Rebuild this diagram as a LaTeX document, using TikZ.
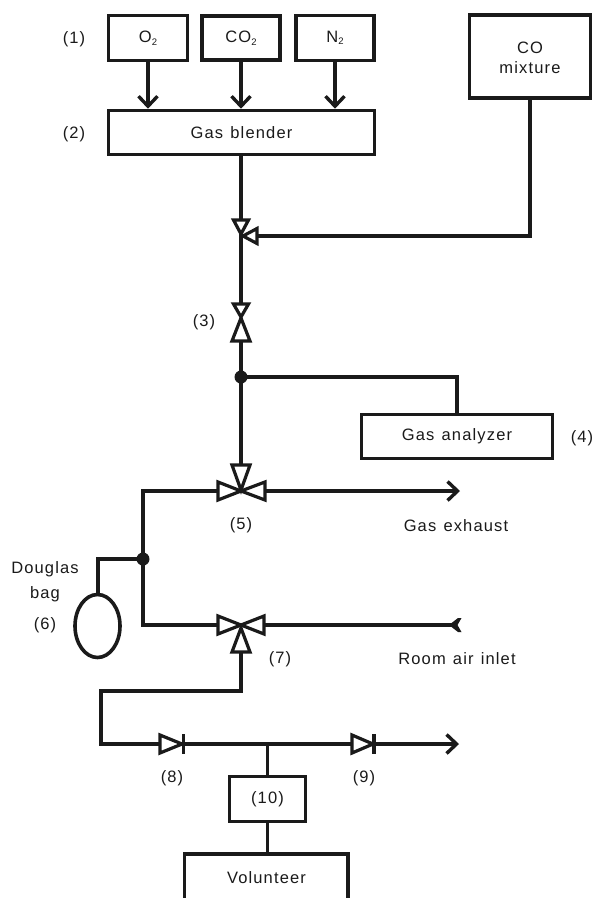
\documentclass[tikz,border=0pt]{standalone}
\usepackage{fontspec}
\setmainfont[LetterSpace=7,WordSpace=1.25]{Liberation Sans}
\usetikzlibrary{arrows.meta,shapes.geometric}
\definecolor{ink}{HTML}{1A1A1A}
\tikzset{
  x=1pt,y=-1pt,
  pipe/.style={ink,line width=3.4pt,line join=miter},
  flow/.style={pipe,-{Straight Barb[length=10pt,width=19pt,line width=3.4pt]}},
  box/.style={draw=ink,line width=3.6pt,fill=white,inner sep=0pt,font=\fontsize{16.5}{20}\selectfont,text=ink,align=center},
  lab/.style={inner sep=0pt,font=\fontsize{16.5}{25}\selectfont,text=ink,align=center},
  tri/.style={draw=ink,line width=3.2pt,fill=white,line join=miter},
  dot/.style={circle,fill=ink,inner sep=0pt,minimum size=13pt},
}
\newcommand{\subtwo}[1]{\raisebox{-0.3ex}{\fontsize{9.5}{10}\selectfont #1}}
\begin{document}
\begin{tikzpicture}
\useasboundingbox (0,0) rectangle (593,898);
\fill[white] (0,0) rectangle (593,898);
% boxes
\node[box,minimum width=79pt,minimum height=45pt] (o2) at (148,38) {O\subtwo{2}};
\node[box,line width=4.4pt,minimum width=78pt,minimum height=44pt] (co2) at (241,38) {CO\subtwo{2}};
\node[box,minimum width=78pt,minimum height=45pt] (n2) at (335,38) {N\subtwo{2}};
\node[box,minimum width=266pt,minimum height=44pt] (blend) at (241.5,132.5) {Gas blender};
\node[box,minimum width=121pt,minimum height=83pt] (co) at (530,56.5) {};
\node[lab,font=\fontsize{16.5}{20}\selectfont] (cot) at (530,58) {CO\\mixture};
\node[box,minimum width=191pt,minimum height=44pt] (ana) at (457,436.5) {Gas analyzer};
\node[box,minimum width=76pt,minimum height=45pt] (ten) at (267.5,799) {(10)};
% volunteer (runs off the page)
\node[lab,font=\fontsize{16.5}{20}\selectfont] (vol) at (266.5,878) {Volunteer};
\coordinate (voltop) at (267.5,854);
\draw[pipe,line width=3.6pt] (184.5,898) -- (184.5,854) -- (348,854) -- (348,898);
% named points
\coordinate (j1b) at (241,220);
\coordinate (j1) at (241,233);
\coordinate (j1r) at (257,236);
\coordinate (j1o) at (241,303);
\coordinate (v3b) at (241,341);
\coordinate (d1) at (241,377);
\coordinate (v5t) at (241,465);
\coordinate (v5l) at (218,491);
\coordinate (v5r) at (265,491);
\coordinate (exh) at (460,491);
\coordinate (d2) at (143,559);
\coordinate (bagc) at (97.5,626);
\coordinate (v7l) at (218,625);
\coordinate (v7r) at (264,625);
\coordinate (v7b) at (241,652);
\coordinate (air) at (455,625);
\coordinate (c8) at (160,744);
\coordinate (b8) at (183.5,744);
\coordinate (c9) at (352,744);
\coordinate (b9) at (374,744);
\coordinate (out) at (459,744);
\coordinate (t1) at (267.5,744);
% connectors
\draw[flow] (o2.south) -- (o2.south |- blend.north);
\draw[flow] (co2.south) -- (co2.south |- blend.north);
\draw[flow] (n2.south) -- (n2.south |- blend.north);
\draw[pipe] (co2.south |- blend.south) -- (j1b);
\draw[pipe] (co.south) -- (530,236) -- (j1r);
\draw[pipe] (j1) -- (j1o);
\draw[pipe] (v3b) -- (d1) -- (v5t);
\draw[pipe] (d1) -- (457,377) -- (ana.north);
\draw[flow] (v5r) -- (exh);
\draw[pipe] (v5l) -- (143,491) -- (143,625) -- (v7l);
\draw[pipe] (d2) -- (98,559) -- (98,594);
\draw[pipe] (v7r) -- (air);
\fill[ink] (449,625) -- (458,618) -- (461.5,618) -- (457.5,625) -- (461.5,632) -- (458,632) -- cycle;
\draw[pipe] (v7b) -- (241,691) -- (101,691) -- (101,744) -- (c8);
\draw[pipe] (b8) -- (c9);
\draw[flow] (b9) -- (out);
\draw[pipe] (t1) -- (ten.north);
\draw[pipe] (ten.south) -- (voltop);
% valves
\draw[tri] (241,234) -- (233.5,220) -- (248.5,220) -- cycle;
\draw[tri] (243,236) -- (257,228.5) -- (257,243.5) -- cycle;
\draw[tri] (241,317) -- (233.5,304) -- (248.5,304) -- cycle;
\draw[tri] (241,318) -- (232,341) -- (250,341) -- cycle;
\draw[tri] (241,490) -- (232,465) -- (250,465) -- cycle;
\draw[tri] (241,491) -- (218,482) -- (218,500) -- cycle;
\draw[tri] (241,491) -- (265,482) -- (265,500) -- cycle;
\draw[tri] (241,625) -- (218,616) -- (218,634) -- cycle;
\draw[tri] (241,625) -- (264,616) -- (264,634) -- cycle;
\draw[tri] (241,628) -- (232,652) -- (250,652) -- cycle;
\draw[tri] (182,744) -- (160,735) -- (160,753) -- cycle;
\draw[pipe] (183.5,734) -- (183.5,754);
\draw[tri] (373,744) -- (352,735) -- (352,753) -- cycle;
\draw[pipe] (374,734) -- (374,754);
% junctions and bag
\node[dot] (jd1) at (d1) {};
\node[dot] (jd2) at (d2) {};
\node[draw=ink,line width=3.6pt,ellipse,fill=white,minimum width=45pt,minimum height=63pt,inner sep=0pt] (bag) at (bagc) {};
% labels
\node[lab] (l1) at (74,39) {(1)};
\node[lab] (l2) at (74,134) {(2)};
\node[lab] (l3) at (204,322) {(3)};
\node[lab] (l4) at (582,438) {(4)};
\node[lab] (l5) at (241,525) {(5)};
\node[lab] (ld) at (45,581.5) {Douglas\\bag};
\node[lab] (l6) at (45,625) {(6)};
\node[lab] (l7) at (280,659) {(7)};
\node[lab] (l8) at (172,778) {(8)};
\node[lab] (l9) at (364,778) {(9)};
\node[lab] (ex) at (456,526) {Gas exhaust};
\node[lab] (ri) at (457,659) {Room air inlet};
\end{tikzpicture}
\end{document}
